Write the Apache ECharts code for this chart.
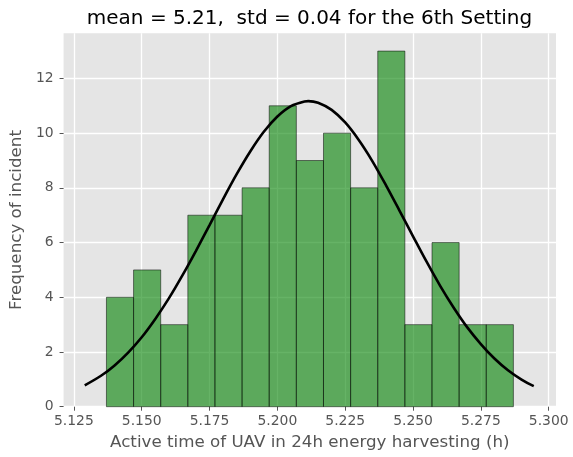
<!DOCTYPE html>
<html>
<head>
<meta charset="utf-8">
<script src="https://cdn.jsdelivr.net/npm/echarts@6/dist/echarts.min.js"></script>
<style>
html,body{margin:0;padding:0;background:#fff;}
#c{width:573px;height:457px;}
</style>
</head>
<body>
<div id="c"></div>
<script>
// Histogram bin edges (h) and counts
var binEdges = [5.137, 5.147, 5.157, 5.167, 5.177, 5.187, 5.197, 5.207, 5.217, 5.227, 5.237, 5.247, 5.257, 5.267, 5.277, 5.287];
var counts = [4, 5, 3, 7, 7, 8, 11, 9, 10, 8, 13, 3, 6, 3, 3];
// Fitted curve points
var curveX = [5.129, 5.135, 5.14, 5.145, 5.15, 5.155, 5.16, 5.165, 5.17, 5.175, 5.18, 5.185, 5.19, 5.195, 5.20, 5.205, 5.21, 5.2114, 5.215, 5.22, 5.225, 5.23, 5.235, 5.24, 5.245, 5.25, 5.255, 5.26, 5.265, 5.27, 5.275, 5.28, 5.285, 5.29, 5.2945];
var curveY = [0.78, 1.13, 1.51, 1.98, 2.54, 3.21, 3.96, 4.80, 5.70, 6.64, 7.59, 8.50, 9.33, 10.05, 10.61, 10.99, 11.16, 11.17, 11.11, 10.85, 10.39, 9.75, 8.98, 8.10, 7.17, 6.23, 5.30, 4.42, 3.62, 2.90, 2.29, 1.76, 1.33, 0.99, 0.75];
// Tick labels
var xTicks = [5.125, 5.150, 5.175, 5.200, 5.225, 5.250, 5.275, 5.300];
var yTicks = [0, 2, 4, 6, 8, 10, 12];

var titleText = 'mean = 5.21,  std = 0.04 for the 6th Setting';
var xName = 'Active time of UAV in 24h energy harvesting (h)';
var yName = 'Frequency of incident';

var barData = counts.map(function (c, i) { return [binEdges[i], binEdges[i + 1], c]; });
var lineData = curveX.map(function (x, i) { return [x, curveY[i]]; });

var FONT = 'DejaVu Sans';
var chart = echarts.init(document.getElementById('c'), null, {renderer: 'canvas'});
chart.setOption({
  animation: false,
  backgroundColor: '#ffffff',
  title: {
    text: titleText,
    left: 304.5,
    textAlign: 'center',
    top: 4,
    textStyle: {fontFamily: FONT, fontSize: 20, fontWeight: 'normal', color: '#000'}
  },
  grid: {left: 63.5, right: 17, top: 33.3, bottom: 50.3, show: true, backgroundColor: '#e5e5e5', borderWidth: 0},
  xAxis: {
    type: 'value',
    min: 5.1212, max: 5.3027,
    name: xName,
    nameLocation: 'middle',
    nameGap: 27,
    nameTextStyle: {fontFamily: FONT, fontSize: 16.7, color: '#555'},
    axisLine: {show: false},
    axisTick: {show: true, customValues: xTicks, length: 4, lineStyle: {color: '#555', width: 1}},
    axisLabel: {customValues: xTicks, margin: 8, fontFamily: FONT, fontSize: 13.9, color: '#555',
      formatter: function (v) { return v.toFixed(3); }},
    splitLine: {show: true, lineStyle: {color: '#ffffff', width: 1.3}}
  },
  yAxis: {
    type: 'value',
    min: 0, max: 13.65,
    name: yName,
    nameLocation: 'middle',
    nameGap: 34.5,
    nameRotate: 90,
    nameTextStyle: {fontFamily: FONT, fontSize: 16.7, color: '#555'},
    axisLine: {show: false},
    axisTick: {show: true, customValues: yTicks, length: 4, lineStyle: {color: '#555', width: 1}},
    axisLabel: {customValues: yTicks, margin: 10, fontFamily: FONT, fontSize: 13.9, color: '#555',
      formatter: function (v) { return String(Math.round(v)); }},
    splitLine: {show: true, lineStyle: {color: '#ffffff', width: 1.3}}
  },
  series: [
    {
      type: 'custom',
      data: barData,
      encode: {x: [0, 1], y: 2},
      renderItem: function (params, api) {
        var p0 = api.coord([api.value(0), 0]);
        var p1 = api.coord([api.value(1), api.value(2)]);
        return {
          type: 'rect',
          shape: {x: p0[0], y: p1[1], width: p1[0] - p0[0], height: p0[1] - p1[1]},
          style: {fill: 'rgba(0,128,0,0.6)', stroke: 'rgba(0,0,0,0.5)', lineWidth: 1}
        };
      },
      z: 2
    },
    {
      type: 'line',
      data: lineData,
      smooth: 0.3,
      showSymbol: false,
      lineStyle: {color: '#000', width: 2.6},
      z: 3
    }
  ]
});
</script>
</body>
</html>
